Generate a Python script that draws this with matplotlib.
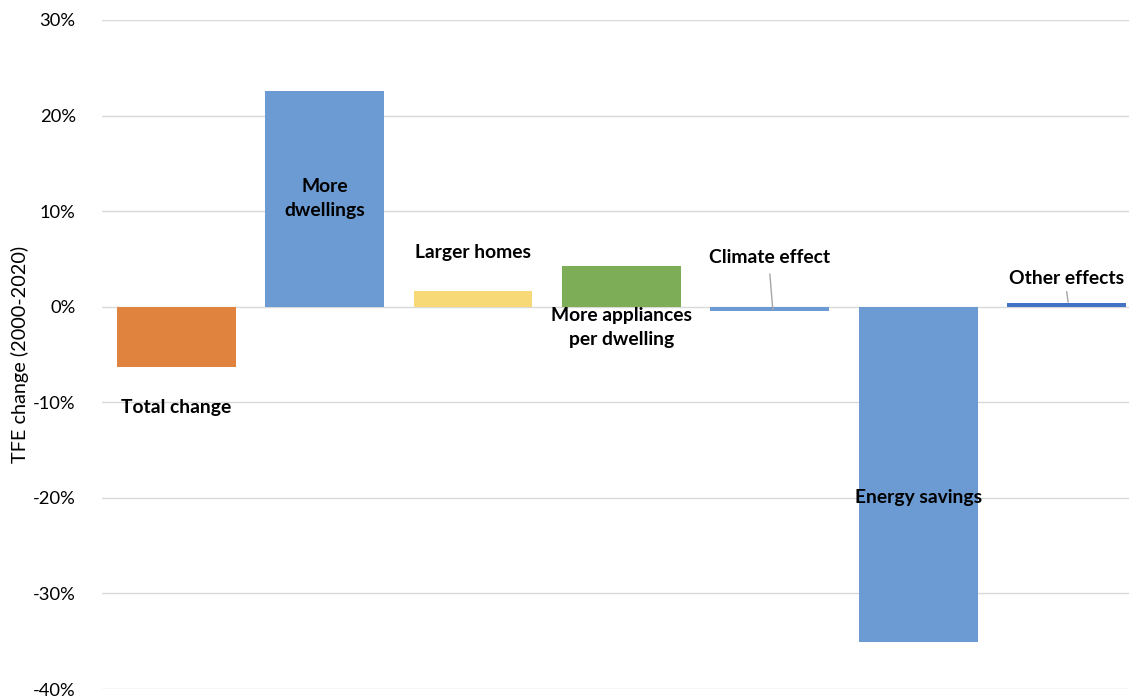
import numpy as np
import matplotlib.pyplot as plt
from matplotlib.ticker import FuncFormatter

plt.rcParams['font.family'] = ['Lato', 'DejaVu Sans']

# Decomposition of residential TFE change, 2000-2020 (%)
categories = ['Total change', 'More\ndwellings', 'Larger homes',
              'More appliances\nper dwelling', 'Climate effect',
              'Energy savings', 'Other effects']
values = [-6.3, 22.6, 1.6, 4.3, -0.5, -35.1, 0.4]
colors = ['#E0833F', '#6B9BD2', '#F8D978', '#7DAE57', '#6B9BD2', '#6B9BD2', '#4472C4']

fig = plt.figure(figsize=(11.29, 6.97), dpi=100)
ax = fig.add_axes([102 / 1129, 8 / 697, 1 - 102 / 1129, 669 / 697])

x = np.arange(len(values))
ax.bar(x, values, width=0.8, color=colors, zorder=2)

ax.set_ylim(-40, 30)
ax.set_xlim(-0.5, 6.42)
ax.set_yticks(np.arange(-40, 31, 10))
ax.yaxis.set_major_formatter(FuncFormatter(lambda v, _: f'{v:.0f}%'))
ax.tick_params(axis='y', length=0, labelsize=13.2, pad=19)
ax.set_xticks([])
ax.grid(axis='y', color='#D9D9D9', lw=1, zorder=0)
for s in ax.spines.values():
    s.set_visible(False)
ax.set_ylabel('TFE change (2000-2020)', fontsize=14.3, labelpad=3)

# label offsets (data units) for each bar
label_y = [-10.5, 11.3, 5.7, -2.2, 5.2, -20.0, 2.9]
for xi, ly, name in zip(x, label_y, categories):
    ax.text(xi, ly, name, ha='center', va='center', fontsize=13.9,
            fontweight='bold', linespacing=1.5, zorder=3)

# leader lines for the thin bars
ax.plot([4.0, 4.02], [3.4, -0.3], color='#A6A6A6', lw=1, zorder=3)
ax.plot([6.0, 6.01], [1.55, 0.5], color='#A6A6A6', lw=1, zorder=3)

fig.savefig('out.png', dpi=100)
